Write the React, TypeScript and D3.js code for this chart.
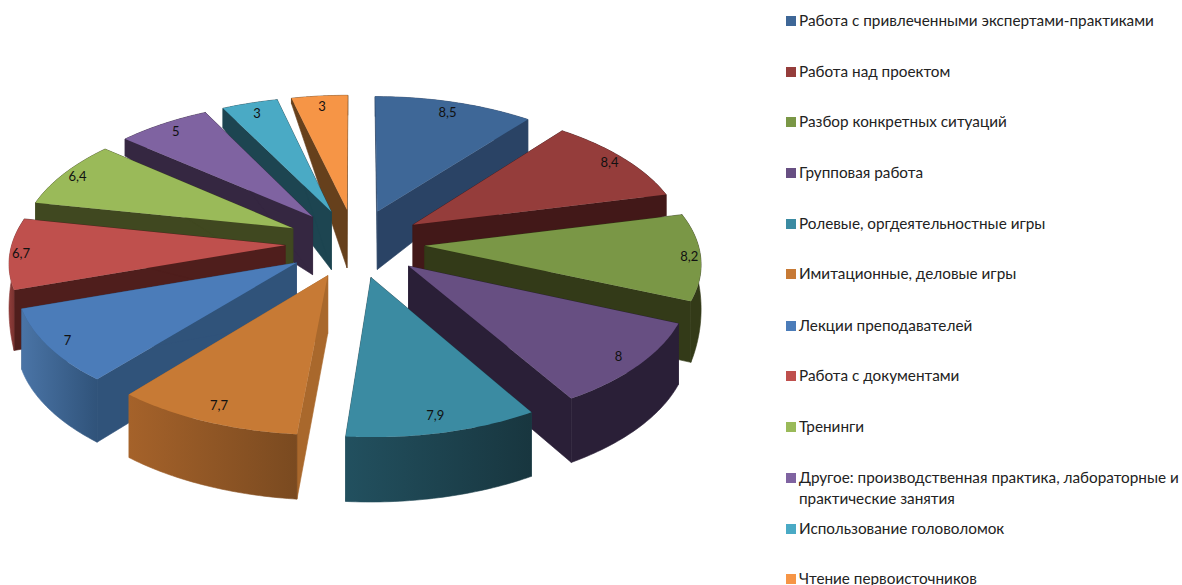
import * as d3 from 'd3';

const categories = [
  'Работа с привлеченными экспертами-практиками',
  'Работа над проектом',
  'Разбор конкретных ситуаций',
  'Групповая работа',
  'Ролевые, оргдеятельностные игры',
  'Имитационные, деловые игры',
  'Лекции преподавателей',
  'Работа с документами',
  'Тренинги',
  'Другое: производственная практика, лабораторные и\nпрактические занятия',
  'Использование головоломок',
  'Чтение первоисточников',
];
const values = [8.5, 8.4, 8.2, 8, 7.9, 7.7, 7, 6.7, 6.4, 5, 3, 3];

const topColors = ['#3E6797', '#953D3B', '#7A9746', '#674F82', '#3B8BA2', '#C77A35', '#4B7CB9', '#BF504D', '#9ABA59', '#7F63A1', '#4AAAC5', '#F69546'];
const cutColors = ['#2A4365', '#421818', '#333A18', '#2A1F37', '#1D4551', '#A9682C', '#30537A', '#4F1E1C', '#404820', '#352741', '#1D4551', '#66401C'];
const rimFrom = ['#2A4365', '#421818', '#333A18', '#2A1F37', '#22505F', '#A5622A', '#4A74A6', '#8F3D3A', '#404820', '#352741', '#1D4551', '#66401C'];
const rimTo = ['#2A4365', '#421818', '#333A18', '#2A1F37', '#18363F', '#7A4A20', '#30537A', '#4F1E1C', '#404820', '#352741', '#1D4551', '#66401C'];
const legendY = [21, 72, 122, 173, 224, 274, 326, 376, 427, 478, 529, 579];

// projection of the pie plane, fitted by eye
const cx = 355;
const cy = 243;
const scaleX = 273;
const scaleY = 134;
const persp = 0.11;
const explode = 0.256;
const apexDepth = 58;

// how tall the wall looks round the rim (degrees -> px)
const rimDepth = d3.scaleLinear()
  .domain([0, 38.3, 76.1, 113.1, 149.2, 184.8, 219.5, 251, 281.2, 310, 332.6, 346.1, 360])
  .range([20, 33, 21, 61, 64, 65, 63, 61, 17, 17, 20, 5, 20]);

const project = (px: number, py: number) => {
  const w = 1 - persp * py;
  return [cx + (scaleX * px) / w, cy + (scaleY * py) / w];
};

const toPath = d3.line();

const arcs = d3.pie<number>().sort(null).startAngle(0).endAngle(2 * Math.PI)(values);

const slices = arcs.map((a, i) => {
  const mid = (a.startAngle + a.endAngle) / 2;
  const ox = explode * Math.sin(mid);
  const oy = -explode * Math.cos(mid);
  const rimAt = (t: number, r = 1) => project(ox + r * Math.sin(t), oy - r * Math.cos(t));
  const depthAt = (t: number) => rimDepth((t * 180) / Math.PI);
  const down = (p: number[], h: number) => [p[0], p[1] + h];

  const apex = project(ox, oy);
  const angles = d3.range(0, 41).map(k => a.startAngle + ((a.endAngle - a.startAngle) * k) / 40);
  const rim = angles.map(t => rimAt(t));
  const rimBottom = angles.map(t => down(rimAt(t), depthAt(t)));
  const apexBottom = down(apex, apexDepth);

  return {
    i,
    order: -Math.cos(mid),
    top: toPath([apex, ...rim])! + 'Z',
    rimWall: toPath([...rim, ...rimBottom.reverse()])! + 'Z',
    startWall: toPath([apex, rim[0], down(rim[0], depthAt(a.startAngle)), apexBottom])! + 'Z',
    endWall: toPath([apex, rim[40], down(rim[40], depthAt(a.endAngle)), apexBottom])! + 'Z',
    // labels sit a little closer to the rim on the left and right sides
    label: rimAt(mid, 0.9 + 0.06 * Math.sin(mid) ** 4),
  };
});

const drawOrder = [...slices].sort((p, q) => d3.ascending(p.order, q.order));
const fontFamily = 'Lato, sans-serif';

export default function App() {
  return (
    <svg width={1182} height={585} style={{ position: 'absolute', left: 0, top: 0, background: '#fff' }}>
      <defs>
        {values.map((_, i) => (
          <linearGradient key={i} id={`rim${i}`} x1="0" x2="1" y1="0" y2="0">
            <stop offset="0" stopColor={rimFrom[i]} />
            <stop offset="1" stopColor={rimTo[i]} />
          </linearGradient>
        ))}
      </defs>

      {drawOrder.map(s => (
        <g key={s.i}>
          <path d={s.startWall} fill={cutColors[s.i]} stroke={cutColors[s.i]} strokeWidth={0.6} />
          <path d={s.endWall} fill={cutColors[s.i]} stroke={cutColors[s.i]} strokeWidth={0.6} />
          <path d={s.rimWall} fill={`url(#rim${s.i})`} stroke={`url(#rim${s.i})`} strokeWidth={0.6} />
          <path d={s.top} fill={topColors[s.i]} />
        </g>
      ))}

      {slices.map(s => (
        <text key={s.i} x={s.label[0]} y={s.label[1]} dy="0.35em" textAnchor="middle"
          fontFamily={fontFamily} fontSize={13} fill="#111">
          {String(values[s.i]).replace('.', ',')}
        </text>
      ))}

      {categories.map((c, i) => (
        <g key={c}>
          <rect x={786} y={legendY[i] - 5} width={10} height={10} fill={topColors[i]} />
          {c.split('\n').map((line, k) => (
            <text key={k} x={799} y={legendY[i] + 21 * k} dy="0.35em" fontFamily={fontFamily} fontSize={15.3} fill="#222">
              {line}
            </text>
          ))}
        </g>
      ))}
    </svg>
  );
}
